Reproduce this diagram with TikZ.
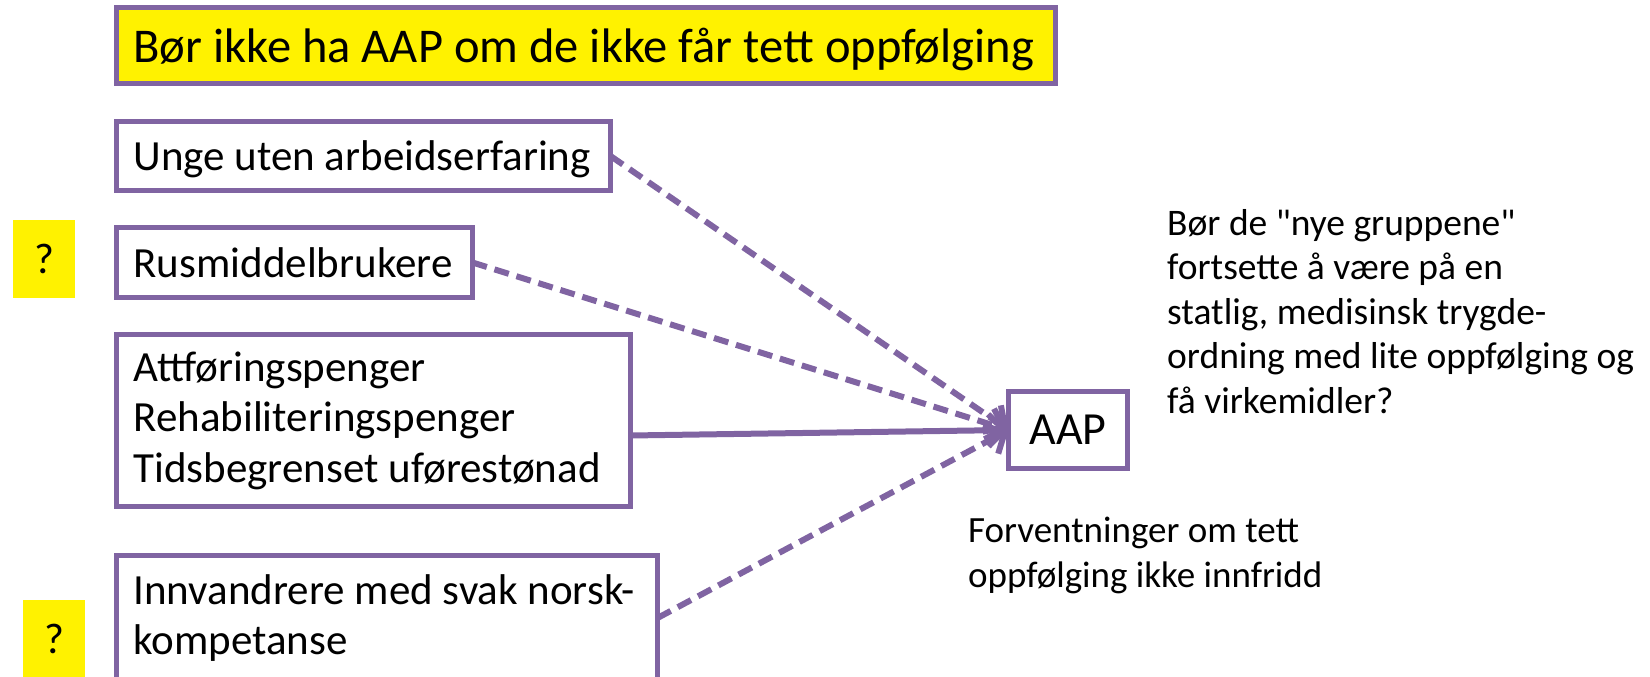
\documentclass[tikz,border=0pt]{standalone}
\usepackage{fontspec}
\setmainfont{Carlito}[Ligatures=TeXOff]
\usetikzlibrary{arrows.meta}
\definecolor{lilla}{RGB}{128,100,162}

\begin{document}
\begin{tikzpicture}[x=1pt,y=-1pt,
  boks/.style={draw=lilla,line width=5pt,outer sep=0pt,inner xsep=17pt,inner ysep=0pt,
    anchor=north west,align=flush left,font=\fontsize{43}{50.5}\selectfont},
  pil/.style={lilla,line width=6pt,-{Straight Barb[length=16pt,width=32pt]}},
  stiplet/.style={dash pattern=on 15pt off 8pt},
  spm/.style={fill=yellow,inner sep=0pt,text depth=0pt,minimum width=62pt,minimum height=78pt,
    font=\fontsize{43}{50.5}\selectfont}]
\useasboundingbox (0,0) rectangle (1650,677);
% venstre side
\node[boks,fill=yellow,text width=905pt,minimum height=76pt,text depth=0pt,font=\fontsize{48.5}{58}\selectfont] (tittel) at (116.5,7.5) {Bør ikke ha AAP om de ikke får tett oppfølging};
\node[boks,text width=460pt,minimum height=69pt,text depth=0pt] (unge) at (116.5,121.5) {Unge uten arbeidserfaring};
\node[boks,text width=322pt,minimum height=70pt,text depth=0pt] (rus) at (116.5,227.5) {Rusmiddelbrukere};
\node[boks,text width=480pt,minimum height=172pt] (attf) at (116.5,334.5) {Attføringspenger\\Rehabiliteringspenger\\Tidsbegrenset uførestønad};
\node[boks,text width=507pt,minimum height=125pt] (innv) at (116.5,555.5) {Innvandrere med svak norsk-\\kompetanse};
\node[spm] (q1) at (44,259) {?};
\node[spm] (q2) at (54,639) {?};
% AAP
\node[boks,anchor=center,align=center,text width=85pt,minimum height=77pt,text depth=0pt,font=\fontsize{46}{55}\selectfont] (aap) at (1068,430) {AAP};
\draw[pil,stiplet] (unge.east) -- (aap.west);
\draw[pil,stiplet] (rus.east) -- (aap.west);
\draw[pil] ([yshift=-15pt]attf.east) -- (aap.west);
\draw[pil,stiplet] (innv.east) -- (aap.west);
% tekst til hoyre
\node[anchor=north west,inner sep=0pt,align=left,font=\fontsize{37.5}{44.5}\selectfont] (sporsmal) at (1167,209) {Bør de "nye gruppene"\\fortsette å være på en\\statlig, medisinsk trygde-\\ordning med lite oppfølging og\\få virkemidler?};
\node[anchor=north west,inner sep=0pt,align=left,font=\fontsize{37}{44.5}\selectfont] (forv) at (968,517) {Forventninger om tett\\oppfølging ikke innfridd};
\end{tikzpicture}
\end{document}
